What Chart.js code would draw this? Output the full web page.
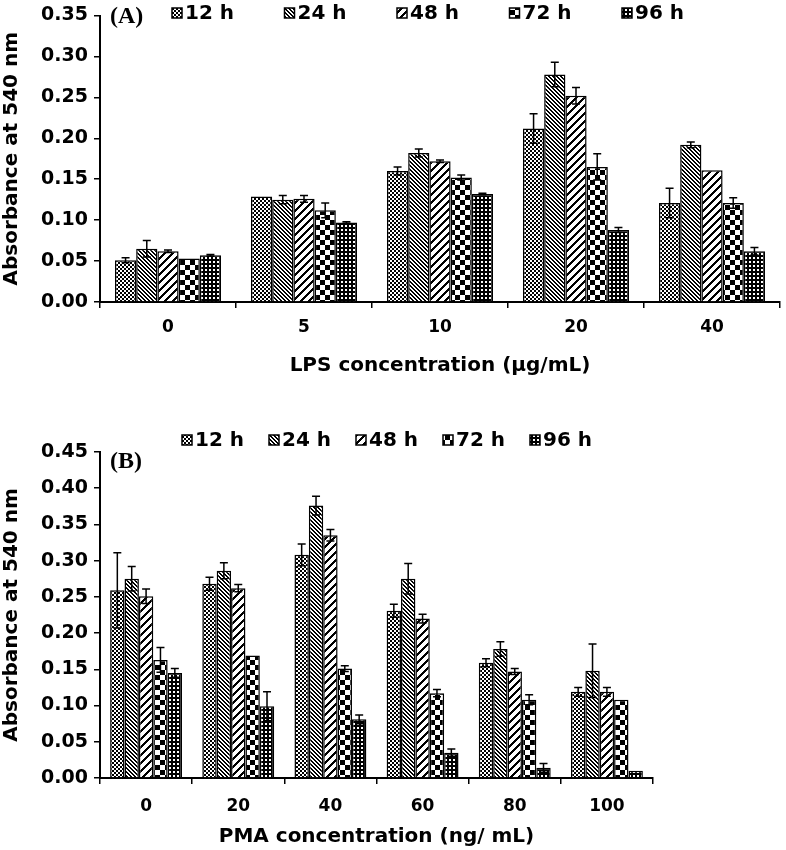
<!DOCTYPE html>
<html>
<head>
<meta charset="utf-8">
<script src="https://cdn.jsdelivr.net/npm/chart.js@4"></script>
<style>
  body { margin: 0; background: #fff; width: 786px; height: 850px; position: relative; overflow: hidden; }
  canvas { position: absolute; left: 0; }
  .tag { position: absolute; font: bold 24px "Liberation Serif", serif; color: #000; }
</style>
</head>
<body>
<canvas id="chartA" width="786" height="384" style="top:0"></canvas>
<canvas id="chartB" width="786" height="460" style="top:390px"></canvas>
<div class="tag" style="left:110px;top:2px">(A)</div>
<div class="tag" style="left:110px;top:447px">(B)</div>
<script>
// series / categories
const times = ['12 h', '24 h', '48 h', '72 h', '96 h'];
const lpsDoses = ['0', '5', '10', '20', '40'];
const pmaDoses = ['0', '20', '40', '60', '80', '100'];

// (A) LPS - means
const lps12 = [0.051, 0.129, 0.160, 0.212, 0.121];
const lps24 = [0.065, 0.125, 0.182, 0.278, 0.192];
const lps48 = [0.062, 0.126, 0.172, 0.252, 0.161];
const lps72 = [0.053, 0.112, 0.152, 0.165, 0.121];
const lps96 = [0.057, 0.097, 0.132, 0.088, 0.062];
// (A) LPS - error
const lps12Err = [0.003, 0.000, 0.005, 0.018, 0.018];
const lps24Err = [0.010, 0.005, 0.005, 0.015, 0.0035];
const lps48Err = [0.0015, 0.004, 0.0015, 0.010, 0.000];
const lps72Err = [0.000, 0.009, 0.003, 0.016, 0.0065];
const lps96Err = [0.001, 0.001, 0.001, 0.003, 0.0045];

// (B) PMA - means
const pma12 = [0.259, 0.268, 0.308, 0.231, 0.159, 0.119];
const pma24 = [0.275, 0.286, 0.376, 0.275, 0.178, 0.148];
const pma48 = [0.251, 0.262, 0.335, 0.220, 0.147, 0.119];
const pma72 = [0.163, 0.169, 0.151, 0.117, 0.108, 0.108];
const pma96 = [0.145, 0.099, 0.081, 0.035, 0.014, 0.010];
// (B) PMA - error
const pma12Err = [0.052, 0.009, 0.015, 0.009, 0.0055, 0.006];
const pma24Err = [0.017, 0.011, 0.013, 0.021, 0.010, 0.037];
const pma48Err = [0.010, 0.005, 0.008, 0.006, 0.004, 0.006];
const pma72Err = [0.017, 0.000, 0.004, 0.005, 0.007, 0.000];
const pma96Err = [0.006, 0.020, 0.006, 0.005, 0.006, 0.000];

const FONT = '"DejaVu Sans", "Liberation Sans", sans-serif';

// black & white fill patterns, one per time point
function makePattern(size, isBlack) {
  const tile = document.createElement('canvas');
  tile.width = size; tile.height = size;
  const t = tile.getContext('2d');
  t.fillStyle = '#fff';
  t.fillRect(0, 0, size, size);
  t.fillStyle = '#000';
  for (let x = 0; x < size; x++) {
    for (let y = 0; y < size; y++) {
      if (isBlack(x, y)) t.fillRect(x, y, 1, 1);
    }
  }
  return t.createPattern(tile, 'repeat');
}
const patterns = [
  makePattern(4, (x, y) => (Math.floor(x / 2) + Math.floor(y / 2)) % 2 === 0),   // 12 h fine check
  makePattern(4, (x, y) => ((x - y + 8) % 4) < 2),                                // 24 h "\" stripes
  makePattern(8, (x, y) => ((x + y) % 8) < 3),                                    // 48 h "/" wide stripes
  makePattern(10, (x, y) => (Math.floor(x / 5) + Math.floor(y / 5)) % 2 === 0),  // 72 h big check
  makePattern(4, (x, y) => !(x >= 1 && x < 3 && y >= 1 && y < 3) || false)         // 96 h dark dotted
];

function buildSets(values, errors) {
  return times.map((t, i) => ({
    label: t,
    data: values[i],
    errors: errors[i],
    backgroundColor: patterns[i],
    borderColor: '#000',
    borderWidth: 1.5,
    categoryPercentage: 0.78,
    barPercentage: 1.0
  }));
}

const errorBars = {
  id: 'errorBars',
  afterDatasetsDraw(chart) {
    const ctx = chart.ctx;
    const ys = chart.scales.y;
    ctx.save();
    ctx.strokeStyle = '#000';
    ctx.lineWidth = 1.5;
    chart.data.datasets.forEach((ds, i) => {
      chart.getDatasetMeta(i).data.forEach((bar, j) => {
        const e = ds.errors[j];
        if (!e) return;
        const v = ds.data[j];
        const top = ys.getPixelForValue(v + e);
        const bot = ys.getPixelForValue(Math.max(v - e, 0));
        ctx.beginPath();
        ctx.moveTo(bar.x, bot); ctx.lineTo(bar.x, top);
        ctx.moveTo(bar.x - 4, top); ctx.lineTo(bar.x + 4, top);
        ctx.moveTo(bar.x - 4, bot); ctx.lineTo(bar.x + 4, bot);
        ctx.stroke();
      });
    });
    ctx.restore();
  }
};

function swatchLegend(x0, step, yc) {
  return {
    id: 'swatchLegend',
    afterDraw(chart) {
      const ctx = chart.ctx;
      ctx.save();
      ctx.font = 'bold 20px ' + FONT;
      ctx.textBaseline = 'middle';
      chart.data.datasets.forEach((ds, i) => {
        const x = x0 + i * step;
        ctx.fillStyle = ds.backgroundColor;
        ctx.fillRect(x, yc - 5, 10, 10);
        ctx.strokeStyle = '#000';
        ctx.lineWidth = 1.5;
        ctx.strokeRect(x, yc - 5, 10, 10);
        ctx.fillStyle = '#000';
        ctx.fillText(ds.label, x + 13, yc + 1);
      });
      ctx.restore();
    }
  };
}

function makeChart(id, labels, sets, opt) {
  return new Chart(document.getElementById(id), {
    type: 'bar',
    data: { labels: labels, datasets: sets },
    options: {
      responsive: false,
      animation: false,
      layout: { padding: opt.padding },
      plugins: { legend: { display: false }, tooltip: { enabled: false } },
      scales: {
        x: {
          ticks: { color: '#000', padding: opt.xTickPad, font: { family: FONT, size: 17, weight: 'bold' } },
          grid: { offset: true, drawOnChartArea: false, drawTicks: true, tickLength: 6, color: '#000', lineWidth: 1.5 },
          border: { color: '#000', width: 2 },
          title: { display: true, text: opt.xTitle, color: '#000', padding: { top: 0, bottom: opt.xTitlePad },
                   font: { family: FONT, size: 20, weight: 'bold' } },
          afterFit(s) { s.height = opt.xHeight; }
        },
        y: {
          min: 0, max: opt.yMax,
          ticks: { stepSize: 0.05, color: '#000', padding: 6, callback: v => v.toFixed(2),
                   font: { family: FONT, size: 19, weight: 'bold', lineHeight: 1 } },
          grid: { drawOnChartArea: false, drawTicks: true, tickLength: 6, color: '#000', lineWidth: 1.5 },
          border: { color: '#000', width: 2 },
          title: { display: true, text: 'Absorbance at 540 nm', color: '#000', padding: { top: 0, bottom: 0 },
                   font: { family: FONT, size: 20, weight: 'bold' } },
          afterFit(s) { s.width = 100; }
        }
      }
    },
    plugins: [errorBars, opt.legend]
  });
}

makeChart('chartA', lpsDoses,
  buildSets([lps12, lps24, lps48, lps72, lps96], [lps12Err, lps24Err, lps48Err, lps72Err, lps96Err]),
  { padding: { top: 10, right: 6, left: 0, bottom: 0 }, xHeight: 82, xTickPad: 9, xTitlePad: 6,
    xTitle: 'LPS concentration (µg/mL)', yMax: 0.35, legend: swatchLegend(172, 112.5, 13) });

makeChart('chartB', pmaDoses,
  buildSets([pma12, pma24, pma48, pma72, pma96], [pma12Err, pma24Err, pma48Err, pma72Err, pma96Err]),
  { padding: { top: 62, right: 133, left: 0, bottom: 0 }, xHeight: 72, xTickPad: 12, xTitlePad: 1,
    xTitle: 'PMA concentration (ng/ mL)', yMax: 0.45, legend: swatchLegend(182, 87, 50) });
</script>
</body>
</html>
